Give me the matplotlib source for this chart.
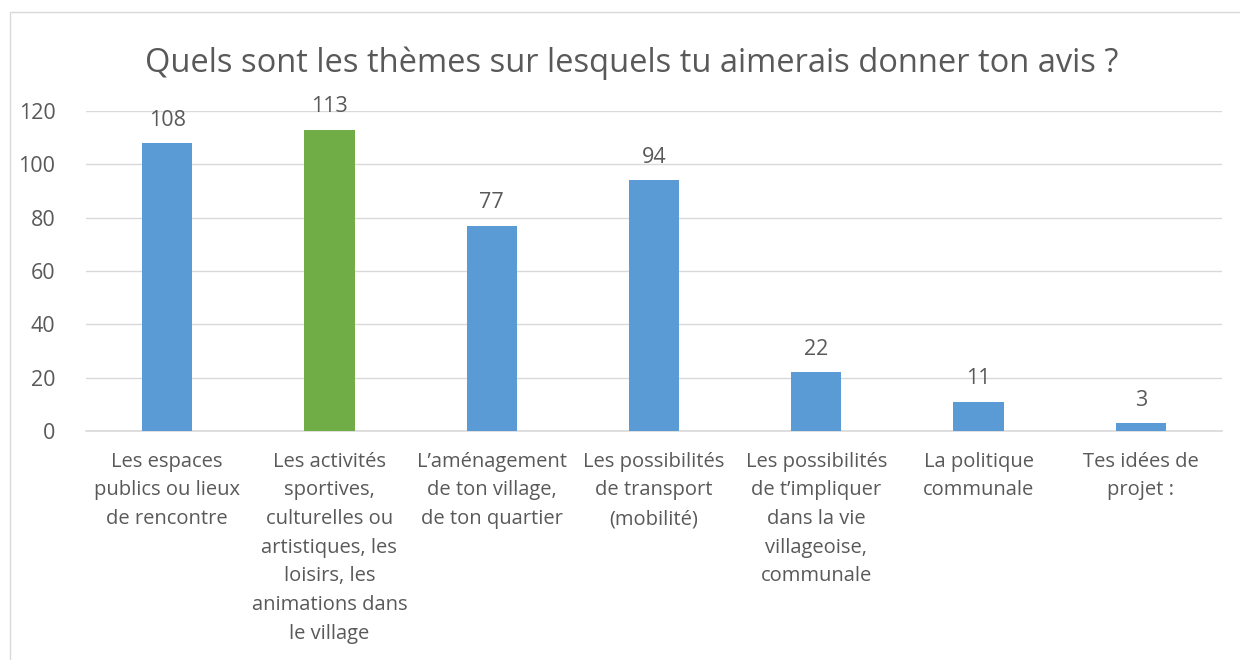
import matplotlib.pyplot as plt
from matplotlib.patches import Rectangle

categories = [
    "Les espaces\npublics ou lieux\nde rencontre",
    "Les activités\nsportives,\nculturelles ou\nartistiques, les\nloisirs, les\nanimations dans\nle village",
    "L\u2019aménagement\nde ton village,\nde ton quartier",
    "Les possibilités\nde transport\n(mobilité)",
    "Les possibilités\nde t\u2019impliquer\ndans la vie\nvillageoise,\ncommunale",
    "La politique\ncommunale",
    "Tes idées de\nprojet :",
]
values = [108, 113, 77, 94, 22, 11, 3]
colors = ["#5B9BD5", "#70AD47", "#5B9BD5", "#5B9BD5", "#5B9BD5", "#5B9BD5", "#5B9BD5"]
title = "Quels sont les thèmes sur lesquels tu aimerais donner ton avis ?"

plt.rcParams['font.family'] = ['Open Sans', 'DejaVu Sans']
txt = "#595959"

fig = plt.figure(figsize=(12.4, 6.6), dpi=100)
ax = fig.add_axes([86/1240, 1 - 431/660, (1222-86)/1240, (431-111)/660])

x = list(range(len(values)))
ax.bar(x, values, width=0.31, color=colors, zorder=3)
for xi, v in zip(x, values):
    ax.annotate(str(v), (xi, v), xytext=(0, 9), textcoords="offset points",
                ha="center", va="bottom", fontsize=15.5, color=txt)

ax.set_xlim(-0.5, 6.5)
ax.set_ylim(0, 120)
ax.set_yticks(range(0, 121, 20))
ax.set_xticks(x)
ax.set_xticklabels(categories, fontsize=14.5, color=txt, linespacing=1.575, va="top")
ax.tick_params(axis="y", labelsize=15.5, labelcolor=txt, length=0, pad=22)
ax.tick_params(axis="x", length=0, pad=15)
ax.grid(axis="y", color="#D9D9D9", linewidth=1, zorder=0)
for s in ["top", "right", "left"]:
    ax.spines[s].set_visible(False)
ax.spines["bottom"].set_color("#D9D9D9")
ax.spines["bottom"].set_linewidth(1.2)

fig.text(632/1240, 1 - 63/660, title, ha="center", va="center", fontsize=23.5, color=txt)

fig.patches.append(Rectangle((10/1240, -0.1), 1.2, 1.1 - 12/660, transform=fig.transFigure,
                             fill=False, edgecolor="#D9D9D9", linewidth=1))

fig.savefig("out.png", dpi=100)
